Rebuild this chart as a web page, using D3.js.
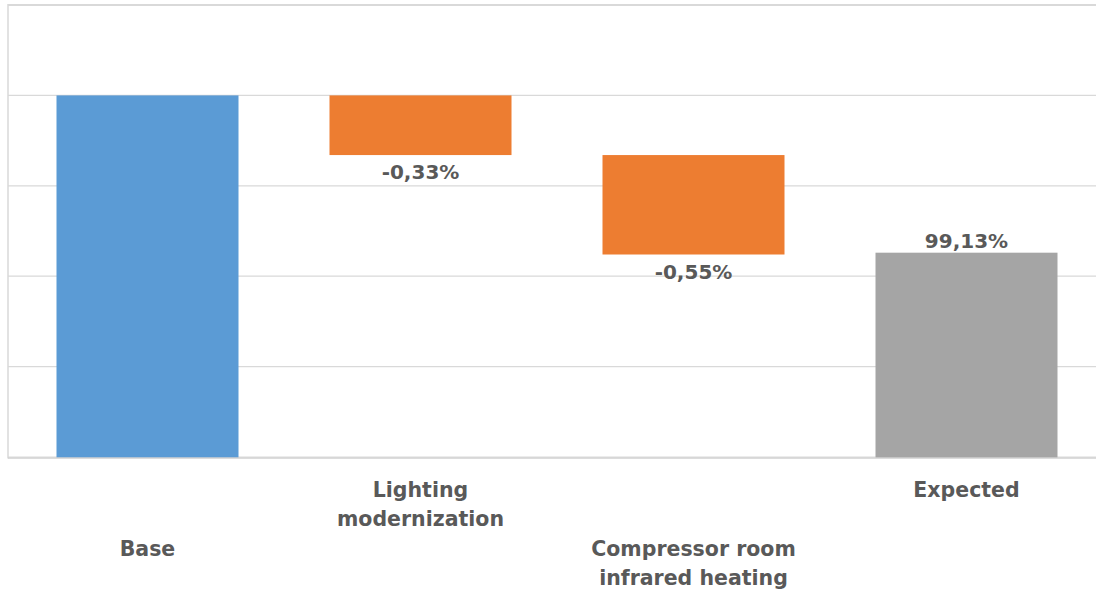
<!DOCTYPE html>
<html lang="en">
<head>
  <meta charset="UTF-8">
  <script src="https://d3js.org/d3.v7.min.js"></script>
  <title>Energy saving waterfall</title>
  <style>
    body { margin: 0; background: #fff; }
    svg { display: block; }
    .lbl { font-family: 'DejaVu Sans', sans-serif; font-weight: bold; fill: #595959; }
  </style>
</head>
<body>
  <svg width="1096" height="593"></svg>
  <script>
    // chart data
    const categories = ["Base", "Lighting modernization", "Compressor room infrared heating", "Expected"];
    const categoryLines = [["Base"], ["Lighting", "modernization"], ["Compressor room", "infrared heating"], ["Expected"]];
    const values = [100, -0.33, -0.55, 99.13];
    const kinds = ["total", "delta", "delta", "total"];
    const valueLabels = ["", "-0,33%", "-0,55%", "99,13%"];
    const yTicks = [98, 98.5, 99, 99.5, 100, 100.5];

    const colors = { start: "#5b9bd5", delta: "#ed7d31", end: "#a5a5a5" };

    const svg = d3.select("svg");
    const plotLeft = 8, plotTop = 5, plotBottom = 457;

    const x = d3.scaleBand()
      .domain(categories)
      .range([11, 1103])
      .paddingInner(1 / 3)
      .paddingOuter(1 / 6);

    const y = d3.scaleLinear()
      .domain([98, 100.5])
      .range([plotBottom, plotTop]);

    // build waterfall segments
    let running = 0;
    const bars = categories.map((c, i) => {
      let y0, y1, fill;
      if (kinds[i] === "total") {
        y0 = y.domain()[0];
        y1 = values[i];
        running = values[i];
        fill = i === 0 ? colors.start : colors.end;
      } else {
        y0 = running;
        y1 = running + values[i];
        running = y1;
        fill = colors.delta;
      }
      return { c, i, lo: Math.min(y0, y1), hi: Math.max(y0, y1), fill };
    });

    // gridlines
    svg.append("g")
      .selectAll("line")
      .data(yTicks)
      .join("line")
      .attr("x1", plotLeft).attr("x2", 1096)
      .attr("y1", d => y(d)).attr("y2", d => y(d))
      .attr("stroke", "#d9d9d9")
      .attr("stroke-width", d => d === yTicks[yTicks.length - 1] ? 2 : 1.2);

    // left frame
    svg.append("line")
      .attr("x1", plotLeft).attr("x2", plotLeft)
      .attr("y1", plotTop - 1).attr("y2", plotBottom + 1.5)
      .attr("stroke", "#d9d9d9").attr("stroke-width", 1.5);

    // bars
    svg.append("g")
      .selectAll("rect")
      .data(bars)
      .join("rect")
      .attr("x", d => x(d.c))
      .attr("width", x.bandwidth())
      .attr("y", d => y(d.hi))
      .attr("height", d => y(d.lo) - y(d.hi) + (kinds[d.i] === "total" ? 1 : 0))
      .attr("fill", d => d.fill);

    // axis line
    svg.append("line")
      .attr("x1", plotLeft).attr("x2", 1096)
      .attr("y1", plotBottom + 1).attr("y2", plotBottom + 1)
      .attr("stroke", "#d0d0d0").attr("stroke-width", 1.5);

    // value labels
    svg.append("g")
      .selectAll("text")
      .data(bars.filter(d => valueLabels[d.i]))
      .join("text")
      .attr("class", "lbl")
      .attr("font-size", 20)
      .attr("text-anchor", "middle")
      .attr("x", d => x(d.c) + x.bandwidth() / 2)
      .attr("y", d => kinds[d.i] === "delta" ? y(d.lo) + 24 : y(d.hi) - 5)
      .text(d => valueLabels[d.i]);

    // category labels, staggered like the source
    const cat = svg.append("g")
      .selectAll("text")
      .data(categories)
      .join("text")
      .attr("class", "lbl")
      .attr("font-size", 20.5)
      .attr("text-anchor", "middle")
      .attr("x", d => x(d) + x.bandwidth() / 2)
      .attr("y", (d, i) => i % 2 === 0 ? 556 : 497);

    cat.selectAll("tspan")
      .data((d, i) => categoryLines[i])
      .join("tspan")
      .attr("x", function () { return d3.select(this.parentNode).attr("x"); })
      .attr("dy", (d, j) => j === 0 ? 0 : 29)
      .text(d => d);
  </script>
</body>
</html>
